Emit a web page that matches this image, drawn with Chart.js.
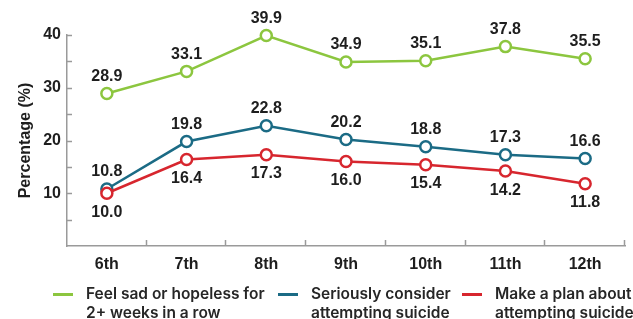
<!DOCTYPE html>
<html>
<head>
<meta charset="utf-8">
<script src="https://cdn.jsdelivr.net/npm/chart.js@4.4.1/dist/chart.umd.min.js"></script>
<style>
  html, body { margin: 0; padding: 0; background: #fff; }
  #wrap { position: relative; width: 633px; height: 319px; overflow: hidden; }
  #c { position: absolute; left: 0; top: 0; }
  .leg { position: absolute; top: 284px; font-family: Inter, "Noto Sans", sans-serif; font-weight: 600; font-size: 15.5px; line-height: 19px; color: #262626; white-space: nowrap; }
  .leg .sw { position: absolute; left: 0; top: 9px; width: 20px; height: 3px; }
  .leg .tx { position: absolute; left: 33px; top: 0; }
</style>
</head>
<body>
<div id="wrap">
  <canvas id="c" width="633" height="319"></canvas>
</div>
<script>
const grades = ["6th", "7th", "8th", "9th", "10th", "11th", "12th"];
const sadHopeless = [28.9, 33.1, 39.9, 34.9, 35.1, 37.8, 35.5];
const considerSuicide = [10.8, 19.8, 22.8, 20.2, 18.8, 17.3, 16.6];
const planSuicide = [10.0, 16.4, 17.3, 16.0, 15.4, 14.2, 11.8];
const seriesLabels = [
  ["Feel sad or hopeless for", "2+ weeks in a row"],
  ["Seriously consider", "attempting suicide"],
  ["Make a plan about", "attempting suicide"]
];
const yTickLabels = [10, 20, 30, 40];
const yAxisTitle = "Percentage (%)";

const colors = ["#8cc63f", "#1b6b85", "#d7262e"];
const labelPos = ["above", "above", "below"];
const FONT = '"Liberation Sans", Arial, sans-serif';

const tickMarks = {
  id: 'tickMarks',
  afterDraw(chart) {
    const ctx = chart.ctx, x = chart.scales.x, y = chart.scales.y;
    ctx.save();
    ctx.strokeStyle = '#9a9a9a';
    ctx.lineWidth = 1.5;
    for (let v = 5; v <= 40; v += 5) {
      const py = Math.round(y.getPixelForValue(v)) + 0.5;
      ctx.beginPath(); ctx.moveTo(x.left, py); ctx.lineTo(x.left + 5, py); ctx.stroke();
    }
    const half = (x.getPixelForValue(1) - x.getPixelForValue(0)) / 2;
    for (let i = 0; i < grades.length; i++) {
      const px = Math.round(x.getPixelForValue(i) + half) - 0.5;
      ctx.beginPath(); ctx.moveTo(px, y.bottom); ctx.lineTo(px, y.bottom - 6); ctx.stroke();
    }
    ctx.restore();
  }
};

const valueLabels = {
  id: 'valueLabels',
  afterDatasetsDraw(chart) {
    const ctx = chart.ctx;
    ctx.save();
    ctx.font = 'bold 16px ' + FONT;
    ctx.fillStyle = '#1e1e1e';
    ctx.textAlign = 'center';
    ctx.textBaseline = 'middle';
    chart.data.datasets.forEach((ds, di) => {
      const meta = chart.getDatasetMeta(di);
      meta.data.forEach((pt, i) => {
        const dy = labelPos[di] === 'above' ? -17 : 19;
        ctx.fillText(ds.data[i].toFixed(1), pt.x, pt.y + dy);
      });
    });
    ctx.restore();
  }
};

const mk = (data, i, order) => ({
  label: seriesLabels[i].join(' '),
  data: data,
  borderColor: colors[i],
  backgroundColor: '#ffffff',
  pointBackgroundColor: '#ffffff',
  pointBorderColor: colors[i],
  pointRadius: 5.5,
  pointBorderWidth: 2.5,
  borderWidth: 2.5,
  tension: 0,
  clip: false,
  order: order
});

new Chart(document.getElementById('c'), {
  type: 'line',
  data: {
    labels: grades,
    datasets: [mk(sadHopeless, 0, 2), mk(considerSuicide, 1, 1), mk(planSuicide, 2, 0)]
  },
  options: {
    responsive: false,
    animation: false,
    events: [],
    layout: { padding: { top: 35, right: 7, left: 0, bottom: 44 } },
    plugins: { legend: { display: false }, tooltip: { enabled: false } },
    scales: {
      x: {
        offset: true,
        grid: { display: false, drawTicks: false },
        border: { display: true, color: '#9a9a9a', width: 1.5 },
        ticks: { color: '#1e1e1e', font: { family: FONT, size: 16, weight: 'bold' }, padding: 9 },
        afterFit(s) { s.height = 29; }
      },
      y: {
        min: 0, max: 40,
        grid: { display: false, drawTicks: false },
        border: { display: true, color: '#9a9a9a', width: 1.5 },
        ticks: {
          stepSize: 10,
          color: '#1e1e1e',
          font: { family: FONT, size: 16, weight: 'bold' },
          padding: 6,
          callback: v => yTickLabels.includes(v) ? String(v) : ''
        },
        title: {
          display: true, text: yAxisTitle, color: '#1e1e1e',
          font: { family: FONT, size: 16, weight: 'bold' }, padding: { top: 16, bottom: 0 }
        },
        afterFit(s) { s.width = 67; }
      }
    }
  },
  plugins: [tickMarks, valueLabels]
});

const legX = [53, 278, 462];
const wrap = document.getElementById('wrap');
seriesLabels.forEach((lines, i) => {
  const d = document.createElement('div');
  d.className = 'leg';
  d.style.left = legX[i] + 'px';
  const sw = document.createElement('div');
  sw.className = 'sw'; sw.style.background = colors[i];
  const tx = document.createElement('div');
  tx.className = 'tx';
  tx.innerHTML = lines.map(l => l.replace(/&/g, '&amp;')).join('<br>');
  d.appendChild(sw); d.appendChild(tx);
  wrap.appendChild(d);
});
</script>
</body>
</html>
